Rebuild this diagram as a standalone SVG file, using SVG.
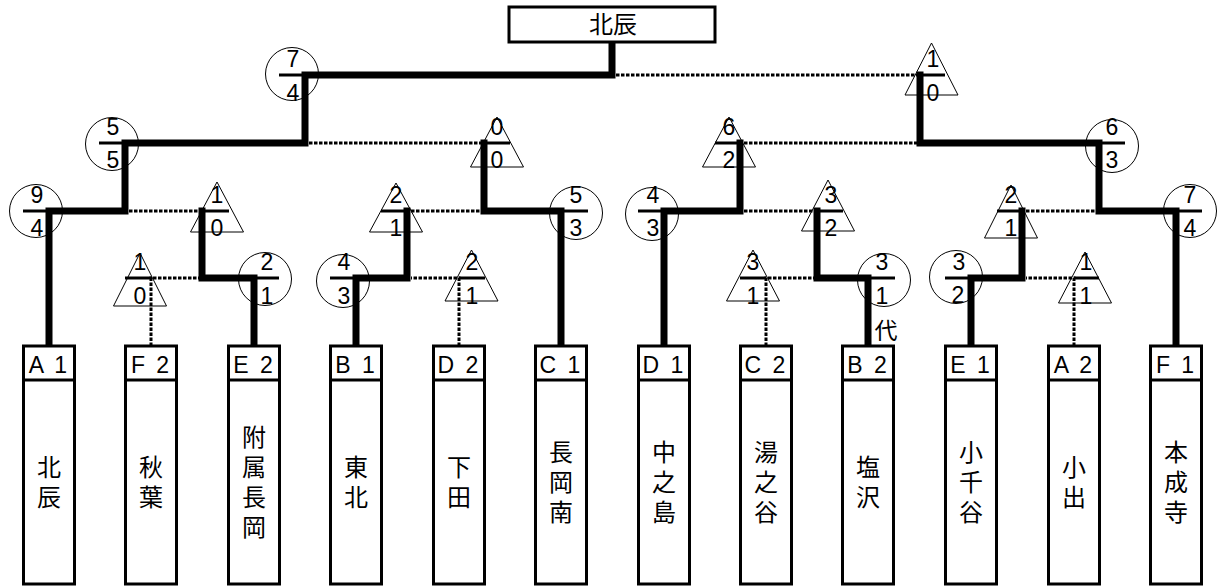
<svg xmlns="http://www.w3.org/2000/svg" width="1220" height="587" viewBox="0 0 1220 587">
<style>
.box{fill:#fff;stroke:#000;stroke-width:3}
.div{stroke:#000;stroke-width:3}
.win{fill:none;stroke:#000;stroke-width:7;stroke-linejoin:miter;stroke-linecap:square}
.lose{fill:none;stroke:#000;stroke-width:3;stroke-dasharray:3.5 1.5}
.mk{fill:none;stroke:#000;stroke-width:1}
.bar{stroke:#000;stroke-width:3}
.num{font-family:"Liberation Sans",Arial,sans-serif;font-size:23px;text-anchor:middle;fill:#000}
.hdr{font-family:"Liberation Sans",Arial,sans-serif;font-size:23px;text-anchor:middle;word-spacing:5px;fill:#000}
.ttl{font-family:"Noto Sans CJK JP",sans-serif;font-size:24px;text-anchor:middle;fill:#000}
.nm{font-family:"Noto Sans CJK JP",sans-serif;font-size:24px;text-anchor:middle;writing-mode:vertical-rl;letter-spacing:6px;fill:#000}
.dai{font-family:"Noto Sans CJK JP",sans-serif;font-size:23px;text-anchor:middle;fill:#000}
</style>
<rect width="1220" height="587" fill="#fff"/>
<g id="connectors">
<path class="win" d="M49,346 V211 H125 V143 H305 V75 H612 V42"/>
<path class="win" d="M254,346 V278 H202 V211"/>
<path class="win" d="M356,346 V278 H407 V211"/>
<path class="win" d="M561,346 V211 H484 V143"/>
<path class="win" d="M664,346 V211 H740 V143"/>
<path class="win" d="M868,346 V278 H817 V211"/>
<path class="win" d="M971,346 V278 H1022 V211"/>
<path class="win" d="M1176,346 V211 H1099 V143 H920 V75"/>
<path class="lose" d="M151,346 V278 H199"/>
<path class="lose" d="M459,346 V278 H411"/>
<path class="lose" d="M766,346 V278 H814"/>
<path class="lose" d="M1074,346 V278 H1026"/>
<path class="lose" d="M129,211 H199"/>
<path class="lose" d="M411,211 H481"/>
<path class="lose" d="M744,211 H814"/>
<path class="lose" d="M1026,211 H1096"/>
<path class="lose" d="M309,143 H481"/>
<path class="lose" d="M744,143 H917"/>
<path class="lose" d="M616,75 H917"/>
</g>
<g id="champion">
<rect class="box" x="509" y="7" width="206" height="35"/>
<text class="ttl" x="613" y="33">北辰</text>
</g>
<g id="team-A1"><rect class="box" x="23.5" y="346" width="51" height="238"/><line class="div" x1="23.5" y1="380" x2="74.5" y2="380"/><text class="hdr" x="48" y="373">A 1</text><text class="nm" x="49" y="485">北辰</text></g>
<g id="team-F2"><rect class="box" x="125.5" y="346" width="51" height="238"/><line class="div" x1="125.5" y1="380" x2="176.5" y2="380"/><text class="hdr" x="150" y="373">F 2</text><text class="nm" x="151" y="485">秋葉</text></g>
<g id="team-E2"><rect class="box" x="228.5" y="346" width="51" height="238"/><line class="div" x1="228.5" y1="380" x2="279.5" y2="380"/><text class="hdr" x="253" y="373">E 2</text><text class="nm" x="254" y="485">附属長岡</text></g>
<g id="team-B1"><rect class="box" x="330.5" y="346" width="51" height="238"/><line class="div" x1="330.5" y1="380" x2="381.5" y2="380"/><text class="hdr" x="355" y="373">B 1</text><text class="nm" x="356" y="485">東北</text></g>
<g id="team-D2"><rect class="box" x="433.5" y="346" width="51" height="238"/><line class="div" x1="433.5" y1="380" x2="484.5" y2="380"/><text class="hdr" x="458" y="373">D 2</text><text class="nm" x="459" y="485">下田</text></g>
<g id="team-C1"><rect class="box" x="535.5" y="346" width="51" height="238"/><line class="div" x1="535.5" y1="380" x2="586.5" y2="380"/><text class="hdr" x="560" y="373">C 1</text><text class="nm" x="561" y="485">長岡南</text></g>
<g id="team-D1"><rect class="box" x="638.5" y="346" width="51" height="238"/><line class="div" x1="638.5" y1="380" x2="689.5" y2="380"/><text class="hdr" x="663" y="373">D 1</text><text class="nm" x="664" y="485">中之島</text></g>
<g id="team-C2"><rect class="box" x="740.5" y="346" width="51" height="238"/><line class="div" x1="740.5" y1="380" x2="791.5" y2="380"/><text class="hdr" x="765" y="373">C 2</text><text class="nm" x="766" y="485">湯之谷</text></g>
<g id="team-B2"><rect class="box" x="842.5" y="346" width="51" height="238"/><line class="div" x1="842.5" y1="380" x2="893.5" y2="380"/><text class="hdr" x="867" y="373">B 2</text><text class="nm" x="868" y="485">塩沢</text></g>
<g id="team-E1"><rect class="box" x="945.5" y="346" width="51" height="238"/><line class="div" x1="945.5" y1="380" x2="996.5" y2="380"/><text class="hdr" x="970" y="373">E 1</text><text class="nm" x="971" y="485">小千谷</text></g>
<g id="team-A2"><rect class="box" x="1048.5" y="346" width="51" height="238"/><line class="div" x1="1048.5" y1="380" x2="1099.5" y2="380"/><text class="hdr" x="1073" y="373">A 2</text><text class="nm" x="1074" y="485">小出</text></g>
<g id="team-F1"><rect class="box" x="1150.5" y="346" width="51" height="238"/><line class="div" x1="1150.5" y1="380" x2="1201.5" y2="380"/><text class="hdr" x="1175" y="373">F 1</text><text class="nm" x="1176" y="485">本成寺</text></g>
<g id="note-dai"><text class="dai" x="886" y="339">代</text></g>
<g id="s-A1-r2"><circle class="mk" cx="36" cy="211" r="26.5"/><line class="bar" x1="23" y1="211" x2="49" y2="211"/><text class="num" x="37" y="203">9</text><text class="num" x="37" y="236">4</text></g>
<g id="s-E2-r1"><circle class="mk" cx="265" cy="279" r="26.5"/><line class="bar" x1="253" y1="278" x2="279" y2="278"/><text class="num" x="267" y="270">2</text><text class="num" x="267" y="304">1</text></g>
<g id="s-B1-r1"><circle class="mk" cx="343" cy="281" r="26.5"/><line class="bar" x1="330" y1="278" x2="356" y2="278"/><text class="num" x="344" y="270">4</text><text class="num" x="344" y="304">3</text></g>
<g id="s-A1-r3"><circle class="mk" cx="112" cy="144" r="26.5"/><line class="bar" x1="99" y1="143" x2="125" y2="143"/><text class="num" x="113" y="135">5</text><text class="num" x="113" y="168">5</text></g>
<g id="s-C1-r2"><circle class="mk" cx="576" cy="213" r="26.5"/><line class="bar" x1="561" y1="211" x2="588" y2="211"/><text class="num" x="576" y="203">5</text><text class="num" x="576" y="236">3</text></g>
<g id="s-final-L"><circle class="mk" cx="292" cy="74" r="26.5"/><line class="bar" x1="279" y1="75" x2="305" y2="75"/><text class="num" x="293" y="67">7</text><text class="num" x="293" y="101">4</text></g>
<g id="s-D1-r2"><circle class="mk" cx="652" cy="214" r="26.5"/><line class="bar" x1="638" y1="211" x2="664" y2="211"/><text class="num" x="653" y="203">4</text><text class="num" x="653" y="236">3</text></g>
<g id="s-B2-r1"><circle class="mk" cx="884" cy="280" r="26.5"/><line class="bar" x1="868" y1="278" x2="895" y2="278"/><text class="num" x="882" y="270">3</text><text class="num" x="882" y="304">1</text></g>
<g id="s-E1-r1"><circle class="mk" cx="956" cy="277" r="26.5"/><line class="bar" x1="945" y1="278" x2="971" y2="278"/><text class="num" x="959" y="270">3</text><text class="num" x="958" y="303">2</text></g>
<g id="s-F1-r2"><circle class="mk" cx="1190" cy="211" r="26.5"/><line class="bar" x1="1176" y1="211" x2="1202" y2="211"/><text class="num" x="1190" y="203">7</text><text class="num" x="1190" y="236">4</text></g>
<g id="s-F1-r3"><circle class="mk" cx="1112" cy="146" r="26.5"/><line class="bar" x1="1099" y1="143" x2="1125" y2="143"/><text class="num" x="1112" y="135">6</text><text class="num" x="1112" y="168">3</text></g>
<g id="s-F2-r1"><polygon class="mk" points="140,253 113.5,306 166.5,306"/><line class="bar" x1="125" y1="278" x2="152" y2="278"/><text class="num" x="140" y="270">1</text><text class="num" x="140" y="304">0</text></g>
<g id="s-E2-r2"><polygon class="mk" points="217,182 190.5,232 243.5,232"/><line class="bar" x1="202" y1="211" x2="229" y2="211"/><text class="num" x="217" y="203">1</text><text class="num" x="217" y="236">0</text></g>
<g id="s-B1-r2"><polygon class="mk" points="396,183 369.5,232 422.5,232"/><line class="bar" x1="381" y1="211" x2="407" y2="211"/><text class="num" x="396" y="203">2</text><text class="num" x="396" y="236">1</text></g>
<g id="s-D2-r1"><polygon class="mk" points="471.5,250 445,301 498,301"/><line class="bar" x1="459" y1="278" x2="485" y2="278"/><text class="num" x="472" y="270">2</text><text class="num" x="472" y="304">1</text></g>
<g id="s-C1-r3"><polygon class="mk" points="497,117 470.5,167 523.5,167"/><line class="bar" x1="482" y1="143" x2="510" y2="143"/><text class="num" x="497" y="135">0</text><text class="num" x="497" y="168">0</text></g>
<g id="s-final-R"><polygon class="mk" points="931.5,43 905,95 958,95"/><line class="bar" x1="920" y1="75" x2="945" y2="75"/><text class="num" x="933" y="67">1</text><text class="num" x="933" y="101">0</text></g>
<g id="s-D1-r3"><polygon class="mk" points="729,117 702.5,167 755.5,167"/><line class="bar" x1="715" y1="143" x2="743" y2="143"/><text class="num" x="729" y="135">6</text><text class="num" x="729" y="168">2</text></g>
<g id="s-C2-r1"><polygon class="mk" points="753,250 726.5,301 779.5,301"/><line class="bar" x1="740" y1="278" x2="766" y2="278"/><text class="num" x="753" y="270">3</text><text class="num" x="753" y="304">1</text></g>
<g id="s-B2-r2"><polygon class="mk" points="828,180 801.5,231 854.5,231"/><line class="bar" x1="817" y1="211" x2="843" y2="211"/><text class="num" x="831" y="203">3</text><text class="num" x="831" y="236">2</text></g>
<g id="s-E1-r2"><polygon class="mk" points="1011,185 984.5,238 1037.5,238"/><line class="bar" x1="997" y1="211" x2="1022" y2="211"/><text class="num" x="1011" y="203">2</text><text class="num" x="1011" y="236">1</text></g>
<g id="s-A2-r1"><polygon class="mk" points="1085,252 1058.5,303 1111.5,303"/><line class="bar" x1="1074" y1="278" x2="1099" y2="278"/><text class="num" x="1086" y="270">1</text><text class="num" x="1086" y="304">1</text></g>
</svg>
